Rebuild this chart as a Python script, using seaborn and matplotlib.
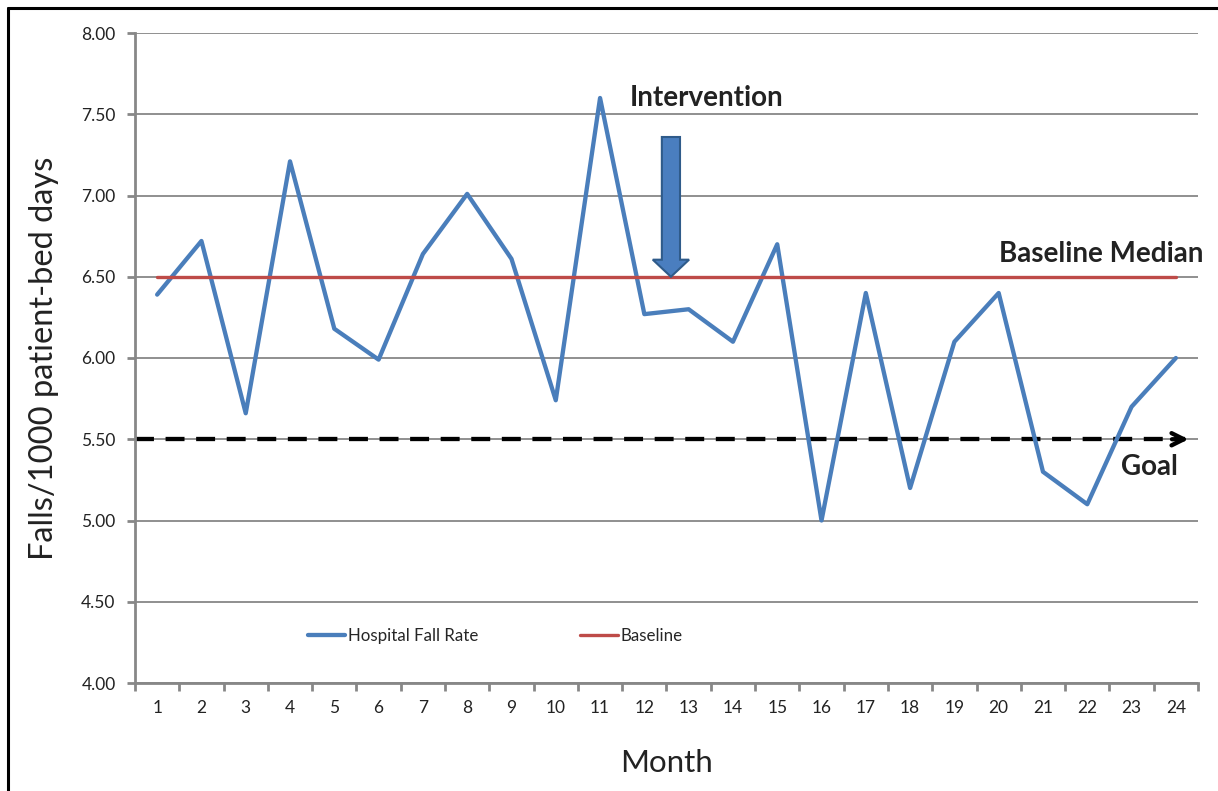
import pandas as pd
import numpy as np
import matplotlib
matplotlib.use('Agg')
import matplotlib.pyplot as plt
from matplotlib.patches import FancyArrow
from matplotlib.lines import Line2D
import seaborn as sns

# data
months = list(range(1, 25))
fall_rate = [6.39, 6.72, 5.66, 7.21, 6.18, 5.99, 6.64, 7.01, 6.61, 5.74, 7.60, 6.27,
             6.30, 6.10, 6.70, 5.00, 6.40, 5.20, 6.10, 6.40, 5.30, 5.10, 5.70, 6.00]
baseline_median = 6.5
goal = 5.5
intervention_month = 12.6

df = pd.DataFrame({'Month': months, 'Hospital Fall Rate': fall_rate,
                   'Baseline': [baseline_median] * len(months)})

sns.set_theme(style='white')
plt.rcParams['font.family'] = ['Lato', 'DejaVu Sans']

blue = '#4a7ebb'
red = '#be4b48'
grey = '#878787'
ink = '#222222'

fig = plt.figure(figsize=(12.18, 7.91), dpi=100)
ax = fig.add_axes([135 / 1218, 1 - 683 / 791, (1198 - 135) / 1218, (683 - 33) / 791])

sns.lineplot(data=df, x='Month', y='Hospital Fall Rate', ax=ax, color=blue, lw=3.1,
             label='Hospital Fall Rate')
sns.lineplot(data=df, x='Month', y='Baseline', ax=ax, color=red, lw=2.4, label='Baseline')

# goal line (dashed with arrow head)
ax.plot([0.5, 24.2], [goal, goal], color='black', lw=3.1, ls=(0, (4.4, 2.7)), zorder=1)
ax.annotate('', xy=(24.35, goal), xytext=(23.85, goal),
            arrowprops=dict(arrowstyle='->', color='black', lw=3.1, mutation_scale=22))

# intervention arrow
ax.add_patch(FancyArrow(intervention_month, 7.36, 0, -(7.36 - baseline_median),
                        width=0.41, head_width=0.82, head_length=0.105,
                        length_includes_head=True, fc='#4a7ebf', ec='#2f5b8a', lw=1.5,
                        zorder=4))

ax.text(13.4, 7.6, 'Intervention', ha='center', va='center', fontsize=20,
        fontweight='bold', color=ink)
ax.text(24.62, 6.64, 'Baseline Median', ha='right', va='center', fontsize=20,
        fontweight='bold', color=ink, clip_on=False)
ax.text(24.05, 5.33, 'Goal', ha='right', va='center', fontsize=20,
        fontweight='bold', color=ink)

ax.set_xlim(0.5, 24.5)
ax.set_ylim(4, 8)
ax.set_yticks(np.arange(4, 8.01, 0.5))
ax.set_yticklabels([f'{v:.2f}' for v in np.arange(4, 8.01, 0.5)], fontsize=12.5,
                   color=ink)
ax.yaxis.grid(True, color=grey, lw=1.3)
ax.set_axisbelow(True)

ax.set_xticks(np.arange(0.5, 25, 1))
ax.set_xticklabels([])
ax.set_xticks(months, minor=True)
ax.set_xticklabels([str(m) for m in months], minor=True, fontsize=12.5, color=ink)
ax.tick_params(axis='x', which='major', direction='out', length=6, width=2, color=grey,
               bottom=True)
ax.tick_params(axis='x', which='minor', length=0, pad=12)
ax.tick_params(axis='y', direction='out', length=6, width=2, color=grey, left=True, pad=8)

for s in ['top', 'right']:
    ax.spines[s].set_visible(False)
for s in ['left', 'bottom']:
    ax.spines[s].set_color(grey)
    ax.spines[s].set_linewidth(2)

ax.set_xlabel('Month', fontsize=22.5, color=ink, labelpad=24)
ax.set_ylabel('Falls/1000 patient-bed days', fontsize=23.5, color=ink, labelpad=16)

ax.legend(loc='center', bbox_to_anchor=(0.339, 0.072), ncol=2, frameon=False,
          fontsize=12.2, handlelength=2.2, handletextpad=0.2, columnspacing=6.0)

# partial frame around the figure (top and left edges)
fig.add_artist(Line2D([8 / 1218, 1], [1 - 8 / 791] * 2, color='black', lw=2.2,
                      transform=fig.transFigure))
fig.add_artist(Line2D([8 / 1218] * 2, [0, 1 - 8 / 791], color='black', lw=2.2,
                      transform=fig.transFigure))

fig.savefig('out.png', dpi=100)
